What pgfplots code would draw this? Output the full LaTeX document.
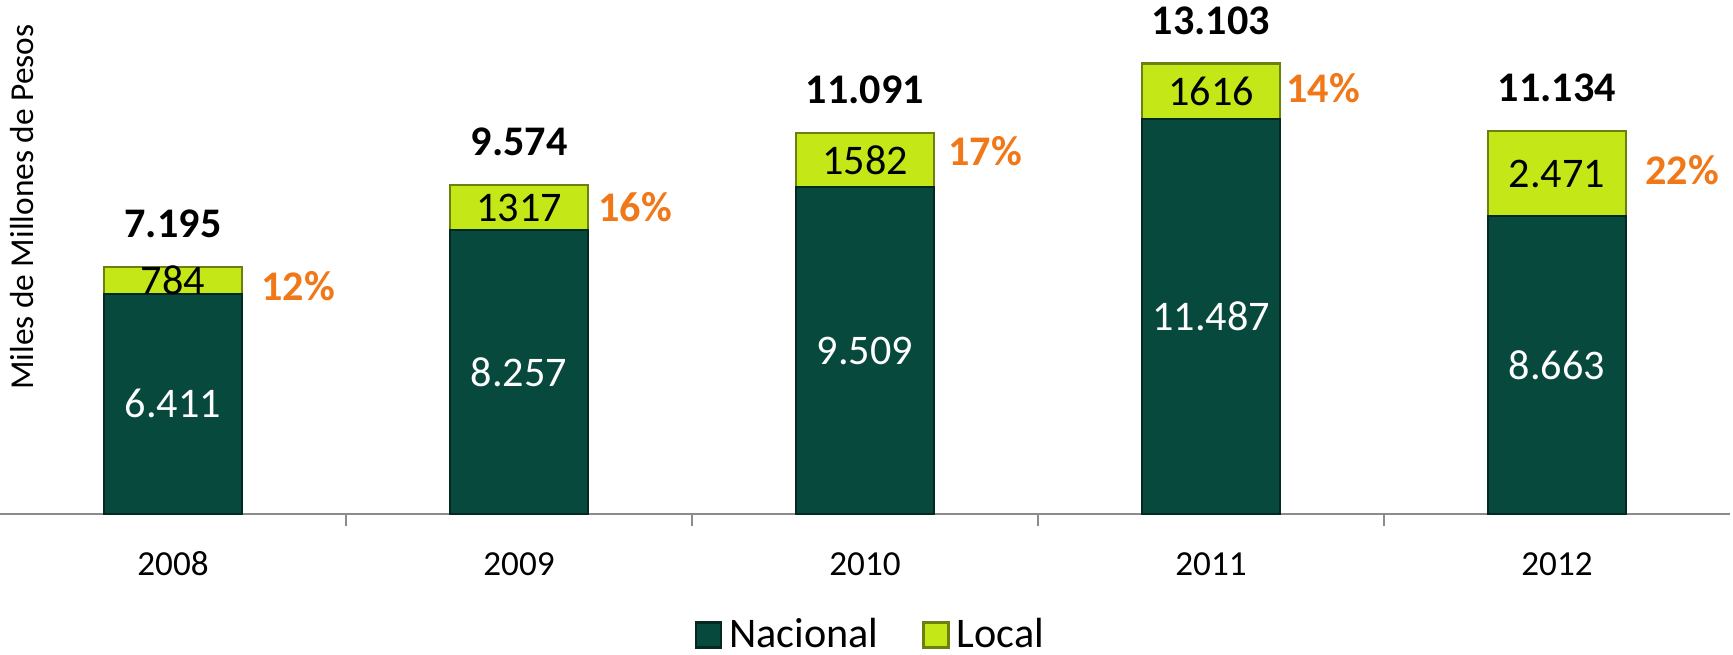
\documentclass[border=0pt]{standalone}
\usepackage{pgfplots}
\pgfplotsset{compat=1.18}
\usepackage{pgfplotstable}
\usepackage{fontspec}
\setmainfont{Carlito}

\definecolor{nacgreen}{HTML}{07493D}
\definecolor{locgreen}{HTML}{C4E817}
\definecolor{pctorange}{HTML}{F07818}
\definecolor{axisgray}{HTML}{8C8C8C}

% x: category, nac/loc: values, nacl/locl: labels as printed,
% tot: total, pct: share of Local, pdx/pdy: place of the % label in mm
\pgfplotstableread{
x nac   loc  nacl   locl  tot   pct pdx  pdy
0 6411  784  6.411  784   7195  12  12.5 -0.6
1 8257  1317 8.257  1317  9574  16  11.6 0.0
2 9509  1582 9.509  1582  11091 17  12.0 0.9
3 11487 1616 11.487 1616  13103 14  11.2 0.3
4 8663  2471 8.663  2.471 11134 22  12.5 0.4
}\datatable

\begin{document}
\begin{tikzpicture}
\begin{axis}[
    at={(0,1.40cm)}, anchor=south west,
    width=17.30cm, height=5.14cm, scale only axis,
    ybar stacked, bar width=13.8mm,
    legend image code/.code={\draw[#1] (0mm,-1.25mm) rectangle (2.5mm,1.25mm);},
    xmin=-0.5, xmax=4.5, ymin=0, ymax=14950,
    axis y line=none, axis x line*=bottom,
    x axis line style={-, draw=axisgray, line width=0.8pt},
    xtick={0,1,2,3,4},
    xticklabels={2008,2009,2010,2011,2012},
    major tick length=0pt,
    xticklabel style={anchor=center, yshift=-5.0mm, font=\fontsize{10}{12}\selectfont},
    extra x ticks={0.5,1.5,2.5,3.5}, extra x tick labels={},
    extra x tick style={major tick length=1.2mm, tick align=outside,
        tick style={draw=axisgray, line width=0.8pt}},
    legend style={at={(0.5,-0.2354)}, anchor=center, xshift=0.8mm, draw=none, fill=none,
        legend columns=2, font=\fontsize{12}{14}\selectfont,
        /tikz/every even column/.append style={column sep=3.7mm}},
    clip=false,
]
% nodes near coords sit in the middle of each stacked segment here
\addplot[fill=nacgreen, draw=nacgreen!55!black, line width=0.6pt,
    point meta=explicit symbolic, nodes near coords,
    every node near coord/.style={anchor=center, text=white,
        font=\fontsize{12}{14}\selectfont}]
    table[x=x, y=nac, meta=nacl] {\datatable};
\addplot[fill=locgreen, draw=locgreen!55!black, line width=0.6pt,
    point meta=explicit symbolic, nodes near coords,
    visualization depends on={\thisrow{loc} \as \segv},
    visualization depends on={\thisrow{tot} \as \totv},
    visualization depends on={\thisrow{pct} \as \pctv},
    visualization depends on={\thisrow{pdx} \as \pdxv},
    visualization depends on={\thisrow{pdy} \as \pdyv},
    every node near coord/.style={anchor=center, text=black,
        font=\fontsize{12}{14}\selectfont,
        label={[inner sep=0pt, text=black,
            font=\bfseries\fontsize{12}{14}\selectfont,
            yshift={\segv/14950*25.7mm+4.3mm}]center:\pgfmathprintnumber[1000 sep={.}, assume math mode=true]{\totv}},
        label={[inner sep=0pt, text=pctorange,
            font=\bfseries\fontsize{12}{14}\selectfont,
            xshift={\pdxv*1mm}, yshift={\pdyv*1mm}]center:\pgfmathprintnumber[precision=0, assume math mode=true]{\pctv}\%}}]
    table[x=x, y=loc, meta=locl] {\datatable};
\legend{Nacional, Local}
\node[rotate=90, font=\fontsize{9.5}{11}\selectfont] at (rel axis cs:0.0127,0.597) {Miles de Millones de Pesos};
\end{axis}
\pgfresetboundingbox
\path[use as bounding box] (0,0) rectangle (17.33cm,6.54cm);
\end{tikzpicture}
\end{document}
